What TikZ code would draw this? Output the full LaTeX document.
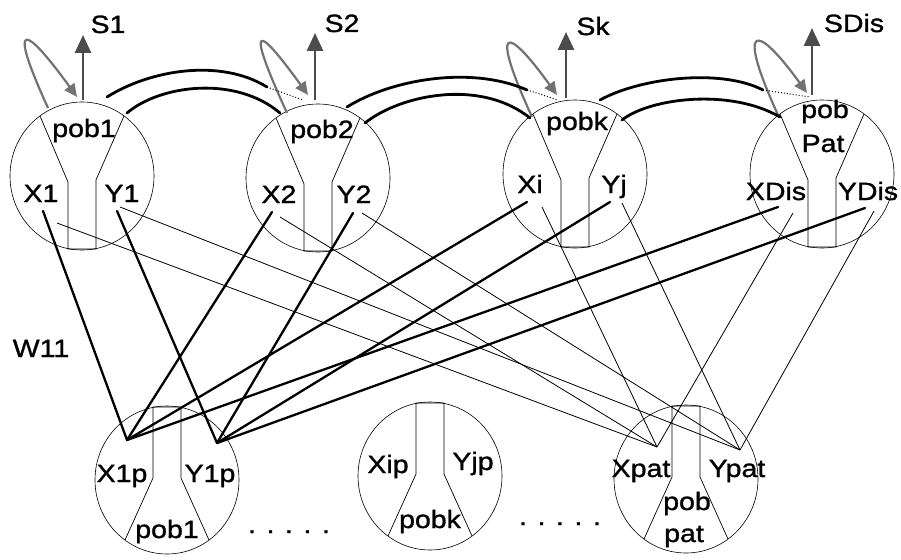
\documentclass[tikz,border=0pt]{standalone}
\usepackage{fontspec}
\setmainfont{Liberation Sans}[FakeStretch=1.14,FakeBold=1.2]
\usetikzlibrary{shapes.geometric,arrows.meta,calc}

\tikzset{
  unit/.style={draw, ellipse, minimum width=144pt, minimum height=148pt, inner sep=0pt, line width=0.6pt},
  funnel/.style={line width=0.7pt},
  lbl/.style={anchor=base, inner sep=0pt, font=\fontsize{25}{30}\selectfont},
  heavy/.style={line width=2.3pt, line cap=round},
  light/.style={line width=0.8pt},
  link/.style={line width=2.8pt, line cap=round},
  linkend/.style={line width=1pt, dotted},
  selfloop/.style={draw=black!55, line width=2.2pt, -{Triangle[length=13pt,width=12pt]}},
  outarrow/.style={draw=black!70, line width=2.8pt, -{Triangle[length=18pt,width=16pt]}},
}

% funnel inside an upper unit: pob on top, X and Y below
\newcommand\upperFunnel[1]{%
  \draw[funnel] ($(#1)+(-42,-60)$) -- ($(#1)+(-14,6)$) -- ($(#1)+(-14,73)$)
    -- ($(#1)+(14,73)$) -- ($(#1)+(14,4)$) -- ($(#1)+(42,-60)$);}
% funnel inside a lower unit: X and Y on top, pob below
\newcommand\lowerFunnel[1]{%
  \draw[funnel] ($(#1)+(-42,60)$) -- ($(#1)+(-14,-2)$) -- ($(#1)+(-14,-73)$)
    -- ($(#1)+(14,-73)$) -- ($(#1)+(14,-2)$) -- ($(#1)+(42,60)$);}
% self loop from the shoulder of a unit back onto its top
\newcommand\selfLoop[2]{%
  \draw[selfloop] (#1) .. controls ($(#1)+(-42,-92)$) and ($(#2)+(-52,-72)$) .. (#2);}

\begin{document}
\begin{tikzpicture}[x=1pt,y=-1pt]
\useasboundingbox (0,0) rectangle (901,559);

% ---------- upper units ----------
\node[unit] (t1) at (82,176) {};
\node[unit] (t2) at (318,178) {};
\node[unit] (t3) at (575,174) {};
\node[unit] (t4) at (822,174) {};
\upperFunnel{t1}
\upperFunnel{t2}
\upperFunnel{t3}
\upperFunnel{t4}

% ---------- lower units ----------
\node[unit] (b1) at (167,480) {};
\node[unit] (b2) at (430,476) {};
\node[unit] (b3) at (686,479) {};
\lowerFunnel{b1}
\lowerFunnel{b2}
\lowerFunnel{b3}

% ---------- labels ----------
\node[lbl] (lpob1) at (84,137) {pob1};
\node[lbl] (lx1) at (41,202) {X1};
\node[lbl] (ly1) at (122,202) {Y1};
\node[lbl] (lpob2) at (322,138) {pob2};
\node[lbl] (lx2) at (279,203) {X2};
\node[lbl] (ly2) at (354,203) {Y2};
\node[lbl] (lpobk) at (577,130) {pobk};
\node[lbl] (lxi) at (530,193) {Xi};
\node[lbl] (lyj) at (614,193) {Yj};
\node[lbl] (lpobp) at (825,118) {pob};
\node[lbl] (lpat) at (823,152) {Pat};
\node[lbl] (lxd) at (776,200) {XDis};
\node[lbl] (lyd) at (868,200) {YDis};

\node[lbl] (lx1p) at (122,482) {X1p};
\node[lbl] (ly1p) at (210,482) {Y1p};
\node[lbl] (lbpob1) at (167,538) {pob1};
\node[lbl] (lxip) at (388,473) {Xip};
\node[lbl] (lyjp) at (473,470) {Yjp};
\node[lbl] (lbpobk) at (430,528) {pobk};
\node[lbl] (lxpat) at (641,477) {Xpat};
\node[lbl] (lypat) at (737,477) {Ypat};
\node[lbl] (lbpob) at (687,510) {pob};
\node[lbl] (lbpat) at (684,542) {pat};

\node[lbl] (dots1) at (289,533) {. . . . .};
\node[lbl] (dots2) at (560,525) {. . . . .};

\node[lbl] (lw11) at (41,357) {W11};

\node[lbl] (ls1) at (108,33) {S1};
\node[lbl] (ls2) at (342,32) {S2};
\node[lbl] (lsk) at (593,35) {Sk};
\node[lbl] (lsd) at (854,32) {SDis};

% ---------- outputs and self loops ----------
\coordinate (o1) at (83,100);  \coordinate (o1t) at (83,35);
\coordinate (o2) at (315,100); \coordinate (o2t) at (315,33);
\coordinate (o3) at (566,98);  \coordinate (o3t) at (566,32);
\coordinate (o4) at (812,95);  \coordinate (o4t) at (812,28);
\draw[outarrow] (o1) -- (o1t);
\draw[outarrow] (o2) -- (o2t);
\draw[outarrow] (o3) -- (o3t);
\draw[outarrow] (o4) -- (o4t);

\coordinate (s1) at (48,108);  \coordinate (r1) at (77,97);
\coordinate (s2) at (287,113); \coordinate (r2) at (308,95);
\coordinate (s3) at (532,117); \coordinate (r3) at (557,95);
\coordinate (s4) at (778,115); \coordinate (r4) at (807,93);
\selfLoop{s1}{r1}
\selfLoop{s2}{r2}
\selfLoop{s3}{r3}
\selfLoop{s4}{r4}

% ---------- links between neighbouring units ----------
\coordinate (u12a) at (107,97);  \coordinate (u12b) at (267,87);  \coordinate (u12c) at (303,100);
\coordinate (u23a) at (347,107); \coordinate (u23b) at (527,90);  \coordinate (u23c) at (557,100);
\coordinate (u34a) at (600,100); \coordinate (u34b) at (763,90);  \coordinate (u34c) at (810,97);
\draw[link] (u12a) .. controls (150,70) and (220,58) .. (u12b);
\draw[linkend] (u12b) .. controls (285,93) .. (u12c);
\draw[link] (u23a) .. controls (390,80) and (470,65) .. (u23b);
\draw[linkend] (u23b) .. controls (543,95) .. (u23c);
\draw[link] (u34a) .. controls (640,78) and (720,68) .. (u34b);
\draw[linkend] (u34b) .. controls (787,93) .. (u34c);

\coordinate (l12a) at (127,113); \coordinate (l12b) at (280,113);
\coordinate (l23a) at (365,123); \coordinate (l23b) at (530,118);
\coordinate (l34a) at (622,120); \coordinate (l34b) at (780,117);
\draw[link] (l12a) .. controls (160,85) and (235,75) .. (l12b);
\draw[link] (l23a) .. controls (400,95) and (480,78) .. (l23b);
\draw[link] (l34a) .. controls (650,98) and (730,88) .. (l34b);

% ---------- weights: upper units to lower units ----------
\coordinate (x1t) at (43,211);  \coordinate (x1n) at (57,223);
\coordinate (y1t) at (117,211); \coordinate (y1n) at (120,207);
\coordinate (x2t) at (272,212); \coordinate (x2n) at (280,217);
\coordinate (y2t) at (353,213); \coordinate (y2n) at (362,213);
\coordinate (xit) at (527,202); \coordinate (xin) at (542,207);
\coordinate (yjt) at (610,202); \coordinate (yjn) at (622,203);
\coordinate (xdt) at (778,207); \coordinate (xdn) at (793,213);
\coordinate (ydt) at (865,208); \coordinate (ydn) at (874,211);

\coordinate (x1p) at (127,440);
\coordinate (y1p) at (217,443);
\coordinate (xpat) at (657,447);
\coordinate (ypat) at (740,450);

\draw[heavy] (x1t) -- (x1p);
\draw[heavy] (x2t) -- (x1p);
\draw[heavy] (xit) -- (x1p);
\draw[heavy] (xdt) -- (x1p);
\draw[heavy] (y1t) -- (y1p);
\draw[heavy] (y2t) -- (y1p);
\draw[heavy] (yjt) -- (y1p);
\draw[heavy] (ydt) -- (y1p);

\draw[light] (x1n) -- (xpat);
\draw[light] (x2n) -- (xpat);
\draw[light] (xin) -- (xpat);
\draw[light] (xdn) -- (xpat);
\draw[light] (y1n) -- (ypat);
\draw[light] (y2n) -- (ypat);
\draw[light] (yjn) -- (ypat);
\draw[light] (ydn) -- (ypat);

\end{tikzpicture}
\end{document}
